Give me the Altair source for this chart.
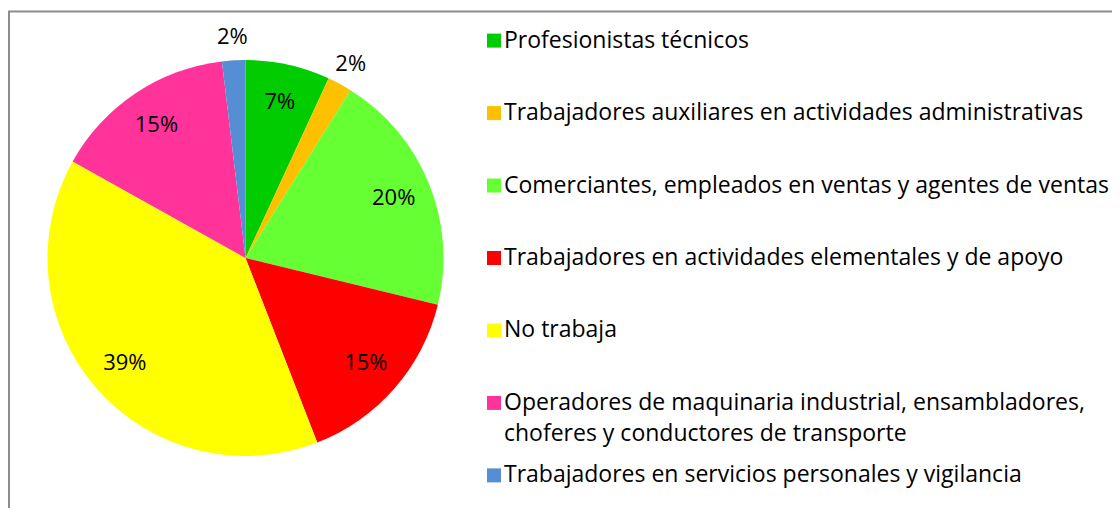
import altair as alt
import pandas as pd

categories = [
    "Profesionistas técnicos",
    "Trabajadores auxiliares en actividades administrativas",
    "Comerciantes, empleados en ventas y agentes de ventas",
    "Trabajadores en actividades elementales y de apoyo",
    "No trabaja",
    "Operadores de maquinaria industrial, ensambladores, choferes y conductores de transporte",
    "Trabajadores en servicios personales y vigilancia",
]
legend_text = [
    "Profesionistas técnicos",
    "Trabajadores auxiliares en actividades administrativas",
    "Comerciantes, empleados en ventas y agentes de ventas",
    "Trabajadores en actividades elementales y de apoyo",
    "No trabaja",
    "Operadores de maquinaria industrial, ensambladores,\nchoferes y conductores de transporte",
    "Trabajadores en servicios personales y vigilancia",
]
values = [6.9, 2.0, 19.9, 15.3, 39.0, 15.0, 1.9]
pct_labels = ["7%", "2%", "20%", "15%", "39%", "15%", "2%"]
colors = ["#00CC00", "#FFC000", "#66FF33", "#FF0000", "#FFFF00", "#FF3399", "#558ED5"]

df = pd.DataFrame({
    "cat": categories,
    "legend": legend_text,
    "value": values,
    "label": pct_labels,
    "idx": list(range(len(categories))),
})

W, H = 1104, 500
CX, CY = 237.5, 250
R = 198
FONT = "Open Sans"

color = alt.Color("cat:N", scale=alt.Scale(domain=categories, range=colors), legend=None)
base = alt.Chart(df)
theta = alt.Theta("value:Q", stack=True)

pie = base.mark_arc(outerRadius=R).encode(
    theta=theta,
    color=color,
    order=alt.Order("idx:Q"),
    x=alt.value(CX),
    y=alt.value(CY),
)

def pie_text(radius, cond):
    return base.mark_text(radius=radius, font=FONT, fontSize=22, color="#000000",
                          align="center", baseline="middle").encode(
        theta=theta,
        detail="cat:N",
        order=alt.Order("idx:Q"),
        text=alt.condition(cond, alt.Text("label:N"), alt.value("")),
        x=alt.value(CX),
        y=alt.value(CY),
    )

inner_labels = pie_text(160, "datum.value >= 5")
outer_labels = pie_text(221, "datum.value < 5")

leg_y = alt.Y("cat:N", sort=categories, axis=None, scale=alt.Scale(padding=0.45))
leg_sq = base.mark_square(size=196, opacity=1).encode(
    x=alt.value(486),
    y=leg_y,
    color=color,
)
leg_txt = base.mark_text(font=FONT, fontSize=23, color="#000000", align="left",
                         baseline="middle", lineBreak="\n", lineHeight=31).encode(
    x=alt.value(496),
    y=leg_y,
    text="legend:N",
)

frame_data = alt.Data(values=[{"k": 1}])
top_rule = alt.Chart(frame_data).mark_rule(color="#8C8C8C", strokeWidth=2).encode(
    x=alt.value(0), x2=alt.value(W), y=alt.value(3.5)
)
left_rule = alt.Chart(frame_data).mark_rule(color="#8C8C8C", strokeWidth=2).encode(
    x=alt.value(1), y=alt.value(3.5), y2=alt.value(H)
)

chart = alt.layer(top_rule, left_rule, pie, inner_labels, outer_labels, leg_sq, leg_txt).properties(
    width=W, height=H, padding=0,
    autosize=alt.AutoSizeParams(type="none"),
).configure_view(stroke=None)

chart.save("out.html", embed_options={"renderer": "svg", "actions": False})
